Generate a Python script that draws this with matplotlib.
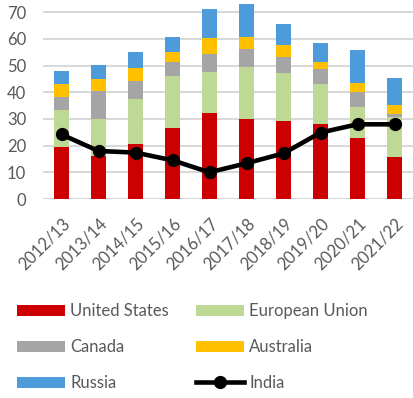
import matplotlib
matplotlib.use("Agg")
import matplotlib.pyplot as plt
import numpy as np

plt.rcParams['font.family'] = ['Lato', 'DejaVu Sans']

years = ["2012/13", "2013/14", "2014/15", "2015/16", "2016/17",
         "2017/18", "2018/19", "2019/20", "2020/21", "2021/22"]

united_states = [19.6, 16.2, 20.6, 26.6, 32.1, 29.9, 29.4, 28.1, 23.0, 15.7]
european_union = [13.8, 13.8, 16.8, 19.5, 15.5, 19.6, 17.8, 15.1, 11.5, 15.0]
canada = [5.0, 10.6, 7.0, 5.2, 6.9, 6.9, 6.0, 5.4, 5.7, 1.1]
australia = [4.8, 4.4, 4.7, 3.9, 5.7, 4.5, 4.5, 2.8, 3.3, 3.6]
russia = [4.9, 5.1, 6.1, 5.7, 10.9, 12.1, 7.8, 7.2, 12.2, 10.0]
india = [24.2, 18.0, 17.4, 14.5, 10.0, 13.4, 17.1, 24.9, 28.0, 28.0]

series = [
    ("United States", united_states, "#CC0000"),
    ("European Union", european_union, "#BDD995"),
    ("Canada", canada, "#A5A5A5"),
    ("Australia", australia, "#FFC000"),
    ("Russia", russia, "#4E9BDB"),
]

fig = plt.figure(figsize=(4.13, 3.98), dpi=100)
ax = fig.add_axes([43/413, 1 - 199/398, 370/413, 199/398])

x = np.arange(len(years))
bottom = np.zeros(len(years))
handles = {}
for name, vals, col in series:
    b = ax.bar(x, vals, width=0.38, bottom=bottom, color=col, label=name, zorder=2)
    handles[name] = b
    bottom += np.array(vals)

ln, = ax.plot(x, india, color="black", lw=3.3, marker="o", markersize=8.5, zorder=3, label="India")
handles["India"] = ln

ax.set_xlim(-0.5, len(years) - 0.5)
ax.set_ylim(0, 74.6)
ax.set_yticks(range(0, 71, 10))
ax.yaxis.grid(True, color="#D9D9D9", lw=1.5, zorder=0)
ax.set_axisbelow(True)
for s in ax.spines.values():
    s.set_visible(False)
ax.tick_params(length=0, labelsize=12, colors="#595959")
ax.tick_params(axis="y", pad=12)
ax.tick_params(axis="x", pad=12)
ax.set_xticks(x)
ax.set_xticklabels(years, rotation=45, ha="right", va="top", rotation_mode="anchor")

order = ["United States", "Canada", "Russia", "European Union", "Australia", "India"]
leg = fig.legend([handles[k] for k in order], order, loc="upper left",
                 bbox_to_anchor=(2/413, 1 - 288/398), ncol=2, frameon=False,
                 fontsize=12, handlelength=2.9, handleheight=0.65, handletextpad=0.3,
                 labelspacing=1.2, columnspacing=1.6)
for t in leg.get_texts():
    t.set_color("#595959")

fig.savefig("out.png", dpi=100)
